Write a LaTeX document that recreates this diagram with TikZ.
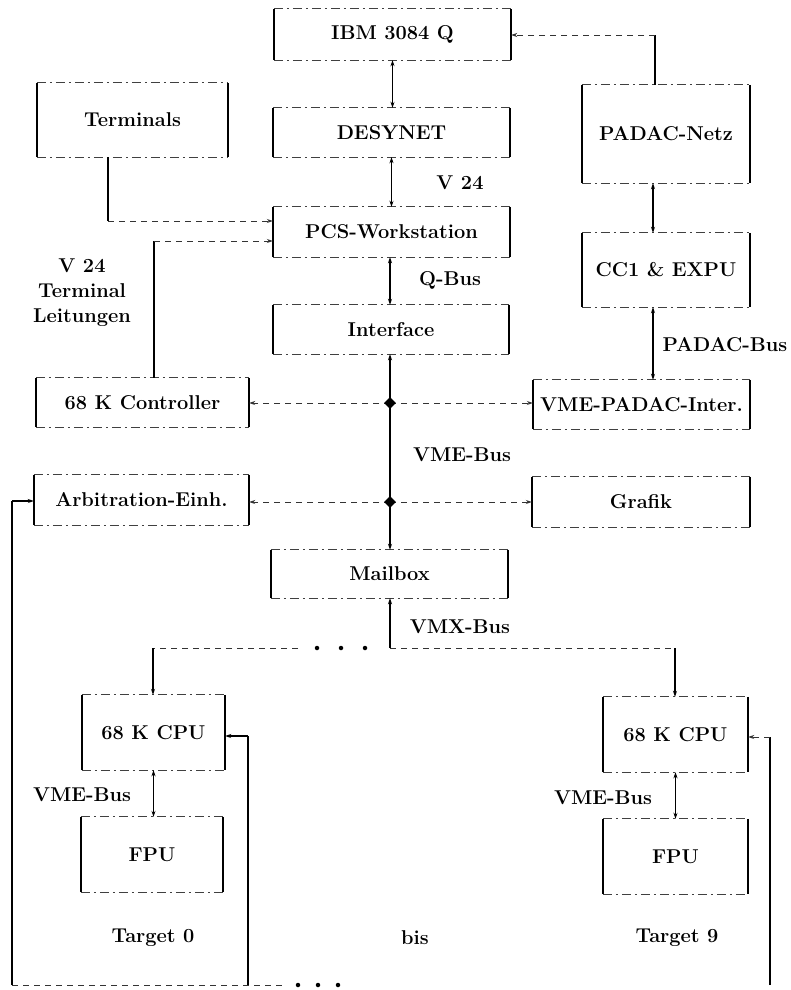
\documentclass[tikz,border=0pt]{standalone}
\usetikzlibrary{arrows.meta,shapes.geometric}
\begin{document}
\begin{tikzpicture}[x=1pt,y=-1pt,
  >={Stealth[length=6pt,width=4pt]},
  lbl/.style={font=\fontsize{20}{25}\selectfont\bfseries, inner sep=0pt, align=center},
  box/.style={lbl},
  side/.style={line width=1.6pt},
  edge/.style={line width=0.8pt, black!75, dash pattern=on 9pt off 4pt on 2pt off 4pt},
  solid/.style={line width=1.6pt},
  dsh/.style={line width=0.9pt, black!80, dash pattern=on 6pt off 5pt},
  junc/.style={diamond, fill=black, inner sep=0pt, minimum size=12pt},
  dotn/.style={circle, fill=black, inner sep=0pt, minimum size=4.5pt}]
\useasboundingbox (0,0) rectangle (790,990);

% boxes
\node[box, minimum width=237pt, minimum height=51pt] (ibm)   at (392.5,34.5) {IBM 3084 Q};
\node[box, minimum width=191pt, minimum height=74pt] (term)  at (132.5,120)  {Terminals};
\node[box, minimum width=237pt, minimum height=49pt] (desy)  at (391.5,132.5){DESYNET};
\node[box, minimum width=168pt, minimum height=98pt] (padac) at (666,134)    {PADAC-Netz};
\node[box, minimum width=237pt, minimum height=50pt] (pcs)   at (391.5,232)  {PCS-Workstation};
\node[box, minimum width=236pt, minimum height=49pt] (iface) at (391,329.5)  {Interface};
\node[box, minimum width=168pt, minimum height=74pt] (cc1)   at (666,270)    {CC1 \& EXPU};
\node[box, minimum width=213pt, minimum height=49pt] (ctrl)  at (142.5,402.5){68 K Controller};
\node[box, minimum width=217pt, minimum height=49pt] (vpi)   at (641.5,404.5){VME-PADAC-Inter.};
\node[box, minimum width=215pt, minimum height=50pt] (arb)   at (141.5,500)  {Arbitration-Einh.};
\node[box, minimum width=218pt, minimum height=50pt] (graf)  at (641,502)    {Grafik};
\node[box, minimum width=237pt, minimum height=48pt] (mail)  at (389.5,574)  {Mailbox};
\node[box, minimum width=143pt, minimum height=75pt] (cpu0)  at (153.5,732.5){68 K CPU};
\node[box, minimum width=142pt, minimum height=75pt] (fpu0)  at (152,854.5)  {FPU};
\node[box, minimum width=145pt, minimum height=75pt] (cpu9)  at (675.5,734.5){68 K CPU};
\node[box, minimum width=145pt, minimum height=75pt] (fpu9)  at (675.5,856.5){FPU};

\foreach \n in {ibm,term,desy,padac,pcs,iface,cc1,ctrl,vpi,arb,graf,mail,cpu0,fpu0,cpu9,fpu9}{
  \draw[edge] (\n.north west) -- (\n.north east);
  \draw[edge] (\n.south west) -- (\n.south east);
  \draw[side] (\n.north west) -- (\n.south west);
  \draw[side] (\n.north east) -- (\n.south east);
}

% labels
\node[lbl] (lv24)  at (460,183) {V 24};
\node[lbl] (lqbus) at (450,280) {Q-Bus};
\node[lbl] (lpbus) at (725,345) {PADAC-Bus};
\node[lbl] (lvme)  at (462,455) {VME-Bus};
\node[lbl] (lvmx)  at (460,627) {VMX-Bus};
\node[lbl] (lterm) at (82,293) {V 24\\Terminal\\Leitungen};
\node[lbl] (lvme0) at (82,795) {VME-Bus};
\node[lbl] (lvme9) at (603,798) {VME-Bus};
\node[lbl] (ltg0)  at (153,938) {Target 0};
\node[lbl] (lbis)  at (415,938) {bis};
\node[lbl] (ltg9)  at (677,938) {Target 9};

% main column
\draw[solid,<->] (ibm.south) -- (ibm.south |- desy.north);
\draw[solid,<->] (desy.south) -- (desy.south |- pcs.north);
\coordinate (busx) at (390,0);
\draw[solid,<->] (pcs.south -| busx) -- (iface.north -| busx);
\draw[solid,<->] (iface.south -| busx) -- (mail.north -| busx);

% terminals and controller lines into PCS
\coordinate (tc) at (108,221);
\draw[solid] (term.south -| tc) -- (tc);
\draw[dsh,->] (tc) -- (tc -| pcs.west);
\coordinate (cc) at (154,241);
\draw[solid] (ctrl.north -| cc) -- (cc);
\draw[dsh,->] (cc) -- (cc -| pcs.west);

% PADAC side
\coordinate (pt) at (655,35);
\draw[solid] (padac.north -| pt) -- (pt);
\draw[dsh,->] (pt) -- (pt -| ibm.east);
\coordinate (pcx) at (653,0);
\draw[solid,<->] (padac.south -| pcx) -- (cc1.north -| pcx);
\draw[solid,<->] (cc1.south -| pcx) -- (vpi.north -| pcx);

% VME bus junctions
\coordinate (j1c) at (390,403);
\coordinate (j2c) at (390,502);
\draw[dsh,->] (j1c) -- (j1c -| ctrl.east);
\draw[dsh,->] (j1c) -- (j1c -| vpi.west);
\draw[dsh,->] (j2c) -- (j2c -| arb.east);
\draw[dsh,->] (j2c) -- (j2c -| graf.west);
\node[junc] (j1) at (j1c) {};
\node[junc] (j2) at (j2c) {};

% VMX bus
\coordinate (vm) at (390,648);
\draw[solid,<-] (mail.south -| vm) -- (vm);
\coordinate (vr) at (675,648);
\draw[dsh] (vm) -- (vr);
\draw[solid,->] (vr) -- (vr |- cpu9.north);
\coordinate (vl) at (153,648);
\coordinate (vd) at (298,648);
\draw[dsh] (vd) -- (vl);
\draw[solid,->] (vl) -- (vl |- cpu0.north);
\node[dotn] (m1) at (317,648) {};
\node[dotn] (m2) at (341,648) {};
\node[dotn] (m3) at (365,648) {};

% targets
\draw[solid,<->] (cpu0.south) -- (cpu0.south |- fpu0.north);
\draw[solid,<->] (cpu9.south) -- (cpu9.south |- fpu9.north);

% return lines
\coordinate (al) at (12,501);
\coordinate (ab) at (12,985);
\draw[solid] (ab) -- (al);
\draw[solid,->] (al) -- (al -| arb.west);
\coordinate (t0) at (248,736);
\coordinate (t0b) at (248,985);
\draw[solid] (t0b) -- (t0);
\draw[solid,->] (t0) -- (t0 -| cpu0.east);
\coordinate (t9) at (770,737);
\coordinate (t9b) at (770,985);
\draw[solid] (t9b) -- (t9);
\draw[dsh,->] (t9) -- (t9 -| cpu9.east);
\coordinate (bd) at (285,985);
\draw[dsh] (ab) -- (bd);
\node[dotn] (b1) at (298,985) {};
\node[dotn] (b2) at (318,985) {};
\node[dotn] (b3) at (338,985) {};
\end{tikzpicture}
\end{document}
